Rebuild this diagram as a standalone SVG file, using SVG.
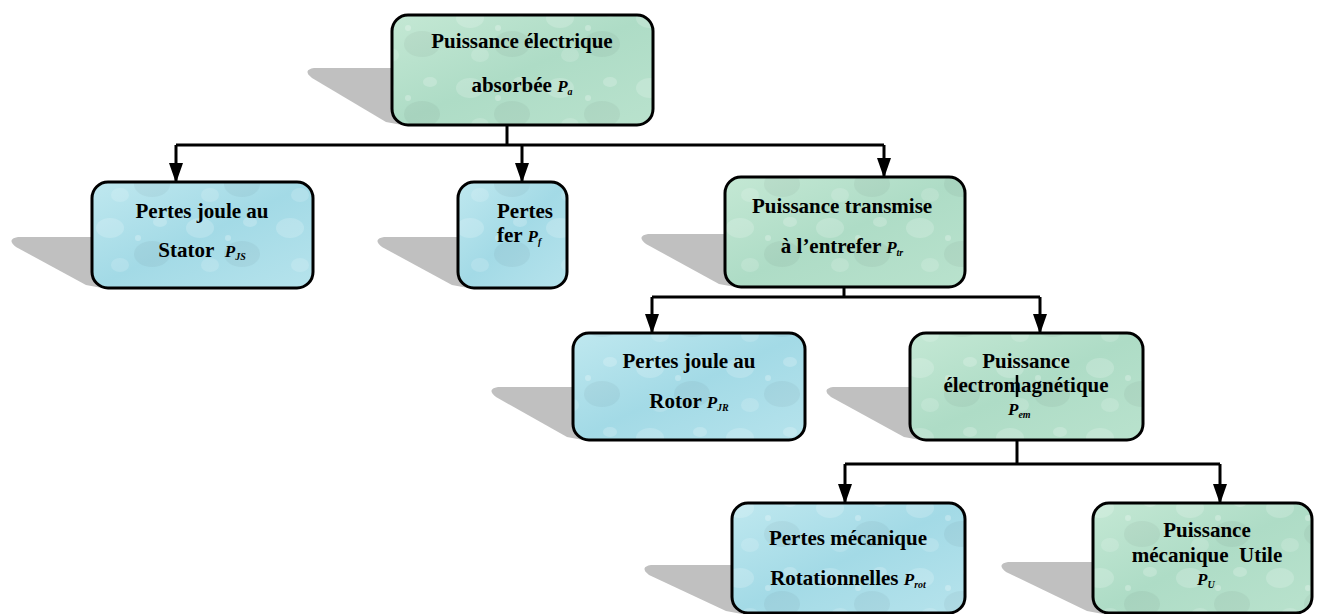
<svg xmlns="http://www.w3.org/2000/svg" width="1318" height="614" viewBox="0 0 1318 614">
  <defs>
    <linearGradient id="gGreen" x1="0" y1="0" x2="1" y2="1">
      <stop offset="0" stop-color="#c4e8d4"/>
      <stop offset="0.5" stop-color="#aedcc6"/>
      <stop offset="1" stop-color="#b9e2cd"/>
    </linearGradient>
    <linearGradient id="gBlue" x1="0" y1="0" x2="1" y2="1">
      <stop offset="0" stop-color="#bfe8ef"/>
      <stop offset="0.5" stop-color="#a3dae6"/>
      <stop offset="1" stop-color="#b6e3ec"/>
    </linearGradient>
    <!-- faint water-drop texture laid over the box fills -->
    <pattern id="drops" patternUnits="userSpaceOnUse" width="90" height="70">
      <ellipse cx="20" cy="18" rx="14" ry="10" fill="#ffffff" fill-opacity="0.18"/>
      <ellipse cx="62" cy="44" rx="18" ry="13" fill="#000000" fill-opacity="0.04"/>
      <ellipse cx="70" cy="12" rx="7" ry="5" fill="#ffffff" fill-opacity="0.2"/>
      <ellipse cx="30" cy="55" rx="9" ry="7" fill="#ffffff" fill-opacity="0.15"/>
      <circle cx="48" cy="28" r="3" fill="#ffffff" fill-opacity="0.25"/>
    </pattern>
    <marker id="arrow" markerUnits="userSpaceOnUse" markerWidth="20" markerHeight="14" refX="19" refY="7" orient="auto" viewBox="0 0 20 14">
      <path d="M0,0 L20,7 L0,14 Z" fill="#000"/>
    </marker>
  </defs>
  <style>
    .box { stroke: #000; stroke-width: 3; fill: url(#drops); }
    .green { fill: url(#gGreen); }
    .blue { fill: url(#gBlue); }
    .shadow { fill: #c0c0c0; }
    .lbl { font-family: "Liberation Serif", "Times New Roman", serif; font-weight: bold; font-size: 21px; fill: #000; }
    .sym { font-style: italic; font-size: 17px; }
    .sub { font-style: italic; font-size: 10px; }
    .wire { fill: none; stroke: #000; stroke-width: 3; }
  </style>

  <!-- connectors -->
  <g id="connectors">
    <path class="wire" d="M507,125 V145"/>
    <path class="wire" d="M176,145 H884"/>
    <path class="wire" d="M176,145 V182" marker-end="url(#arrow)"/>
    <path class="wire" d="M522,145 V182" marker-end="url(#arrow)"/>
    <path class="wire" d="M884,145 V177" marker-end="url(#arrow)"/>

    <path class="wire" d="M844,287 V297"/>
    <path class="wire" d="M652,297 H1040"/>
    <path class="wire" d="M652,297 V333" marker-end="url(#arrow)"/>
    <path class="wire" d="M1040,297 V333" marker-end="url(#arrow)"/>

    <path class="wire" d="M1017,440 V464"/>
    <path class="wire" d="M845,464 H1220"/>
    <path class="wire" d="M845,464 V503" marker-end="url(#arrow)"/>
    <path class="wire" d="M1220,464 V503" marker-end="url(#arrow)"/>
  </g>

  <!-- Puissance électrique absorbée -->
  <g id="node-absorbee">
    <path class="shadow" d="M314,68 Q302,70 312,78 L386,122 L402,125 L402,68 Z"/>
    <rect class="green" x="392" y="15" width="261" height="110" rx="16"/>
    <rect class="box" x="392" y="15" width="261" height="110" rx="16"/>
    <text class="lbl" x="522" y="48" text-anchor="middle">Puissance électrique</text>
    <text class="lbl" x="522" y="92" text-anchor="middle">absorbée <tspan class="sym">P</tspan><tspan class="sub" dy="3">a</tspan></text>
  </g>

  <!-- Pertes joule au stator -->
  <g id="node-pjs">
    <path class="shadow" d="M18,237 Q6,239 16,247 L86,285 L102,288 L102,237 Z"/>
    <rect class="blue" x="92" y="182" width="221" height="106" rx="16"/>
    <rect class="box" x="92" y="182" width="221" height="106" rx="16"/>
    <text class="lbl" x="202" y="218" text-anchor="middle">Pertes joule au</text>
    <text class="lbl" x="202" y="257" text-anchor="middle">Stator&#160; <tspan class="sym">P</tspan><tspan class="sub" dy="3">JS</tspan></text>
  </g>

  <!-- Pertes fer -->
  <g id="node-pf">
    <path class="shadow" d="M384,237 Q372,239 382,247 L452,285 L468,288 L468,237 Z"/>
    <rect class="blue" x="458" y="182" width="109" height="106" rx="16"/>
    <rect class="box" x="458" y="182" width="109" height="106" rx="16"/>
    <text class="lbl" x="497" y="218">Pertes</text>
    <text class="lbl" x="497" y="242">fer <tspan class="sym">P</tspan><tspan class="sub" dy="3">f</tspan></text>
  </g>

  <!-- Puissance transmise à l'entrefer -->
  <g id="node-ptr">
    <path class="shadow" d="M648,234 Q636,236 646,244 L719,284 L735,287 L735,234 Z"/>
    <rect class="green" x="725" y="177" width="240" height="110" rx="16"/>
    <rect class="box" x="725" y="177" width="240" height="110" rx="16"/>
    <text class="lbl" x="842" y="213" text-anchor="middle">Puissance transmise</text>
    <text class="lbl" x="842" y="253" text-anchor="middle">à l’entrefer <tspan class="sym">P</tspan><tspan class="sub" dy="3">tr</tspan></text>
  </g>

  <!-- Pertes joule au rotor -->
  <g id="node-pjr">
    <path class="shadow" d="M498,387 Q486,389 496,397 L567,437 L583,440 L583,387 Z"/>
    <rect class="blue" x="573" y="333" width="232" height="107" rx="16"/>
    <rect class="box" x="573" y="333" width="232" height="107" rx="16"/>
    <text class="lbl" x="689" y="368" text-anchor="middle">Pertes joule au</text>
    <text class="lbl" x="689" y="408" text-anchor="middle">Rotor <tspan class="sym">P</tspan><tspan class="sub" dy="3">JR</tspan></text>
  </g>

  <!-- Puissance électromagnétique -->
  <g id="node-pem">
    <path class="shadow" d="M833,387 Q821,389 831,397 L904,437 L920,440 L920,387 Z"/>
    <rect class="green" x="910" y="333" width="233" height="107" rx="16"/>
    <rect class="box" x="910" y="333" width="233" height="107" rx="16"/>
    <text class="lbl" x="1026" y="368" text-anchor="middle">Puissance</text>
    <text class="lbl" x="1026" y="392" text-anchor="middle">électromagnétique</text>
    <text class="lbl" x="1008" y="415"><tspan class="sym">P</tspan><tspan class="sub" dy="3">em</tspan></text>
    <path class="wire" d="M1017,375 V397" style="stroke-width:2.5"/>
  </g>

  <!-- Pertes mécanique rotationnelles -->
  <g id="node-prot">
    <path class="shadow" d="M651,565 Q639,567 649,575 L726,611 L742,614 L742,565 Z"/>
    <rect class="blue" x="732" y="503" width="233" height="110" rx="16"/>
    <rect class="box" x="732" y="503" width="233" height="110" rx="16"/>
    <text class="lbl" x="848" y="545" text-anchor="middle">Pertes mécanique</text>
    <text class="lbl" x="848" y="585" text-anchor="middle">Rotationnelles <tspan class="sym">P</tspan><tspan class="sub" dy="3">rot</tspan></text>
  </g>

  <!-- Puissance mécanique utile -->
  <g id="node-pu">
    <path class="shadow" d="M1008,562 Q996,564 1006,572 L1087,611 L1103,614 L1103,562 Z"/>
    <rect class="green" x="1093" y="503" width="219" height="110" rx="16"/>
    <rect class="box" x="1093" y="503" width="219" height="110" rx="16"/>
    <text class="lbl" x="1207" y="537" text-anchor="middle">Puissance</text>
    <text class="lbl" x="1207" y="562" text-anchor="middle">mécanique&#160; Utile</text>
    <text class="lbl" x="1197" y="585"><tspan class="sym">P</tspan><tspan class="sub" dy="3">U</tspan></text>
  </g>
</svg>
